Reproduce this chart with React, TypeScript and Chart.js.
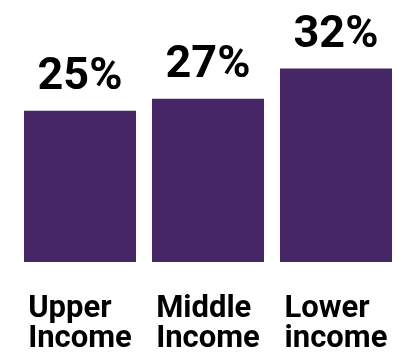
import React, { useEffect, useRef } from "react";
import { Chart, registerables } from "chart.js";

Chart.register(...registerables);

const categories: string[][] = [
  ["Upper", "Income"],
  ["Middle", "Income"],
  ["Lower", "income"],
];
const values: number[] = [25, 27, 32];
const valueLabels: string[] = ["25%", "27%", "32%"];

const BAR_COLOR = "#472667";
const FONT = "Roboto, 'Noto Sans', sans-serif";

const labelPlugin = {
  id: "customLabels",
  afterDatasetsDraw(chart: any) {
    const ctx = chart.ctx;
    const meta = chart.getDatasetMeta(0);
    const area = chart.chartArea;
    ctx.save();
    ctx.fillStyle = "#000000";
    // value labels
    ctx.font = `700 45px ${FONT}`;
    ctx.textAlign = "center";
    ctx.textBaseline = "alphabetic";
    meta.data.forEach((bar: any, i: number) => {
      ctx.fillText(valueLabels[i], bar.x, bar.y - 21.5);
    });
    // category labels, left aligned within a centered block
    ctx.font = `700 31px ${FONT}`;
    ctx.textAlign = "left";
    meta.data.forEach((bar: any, i: number) => {
      const lines = categories[i];
      const maxW = Math.max(...lines.map((l) => ctx.measureText(l).width));
      const left = bar.x - maxW / 2;
      lines.forEach((line, j) => {
        ctx.fillText(line, left, area.bottom + 54.5 + j * 30);
      });
    });
    ctx.restore();
  },
};

export default function App() {
  const canvasRef = useRef<HTMLCanvasElement | null>(null);

  useEffect(() => {
    if (!canvasRef.current) return;
    const chart = new Chart(canvasRef.current, {
      type: "bar",
      data: {
        labels: categories.map((c) => c.join(" ")),
        datasets: [
          {
            data: values,
            backgroundColor: BAR_COLOR,
            borderWidth: 0,
            categoryPercentage: 1,
            barPercentage: 0.875,
          },
        ],
      },
      options: {
        animation: false,
        responsive: true,
        maintainAspectRatio: false,
        layout: { padding: { left: 16, right: 8, top: 20, bottom: 98 } },
        plugins: {
          legend: { display: false },
          tooltip: { enabled: false },
        },
        scales: {
          x: { display: false },
          y: { display: false, min: 0, max: 40 },
        },
      },
      plugins: [labelPlugin],
    });
    return () => chart.destroy();
  }, []);

  return (
    <div
      style={{
        position: "fixed",
        left: 0,
        top: 0,
        width: 408,
        height: 360,
        background: "#ffffff",
      }}
    >
      <canvas ref={canvasRef} />
    </div>
  );
}
